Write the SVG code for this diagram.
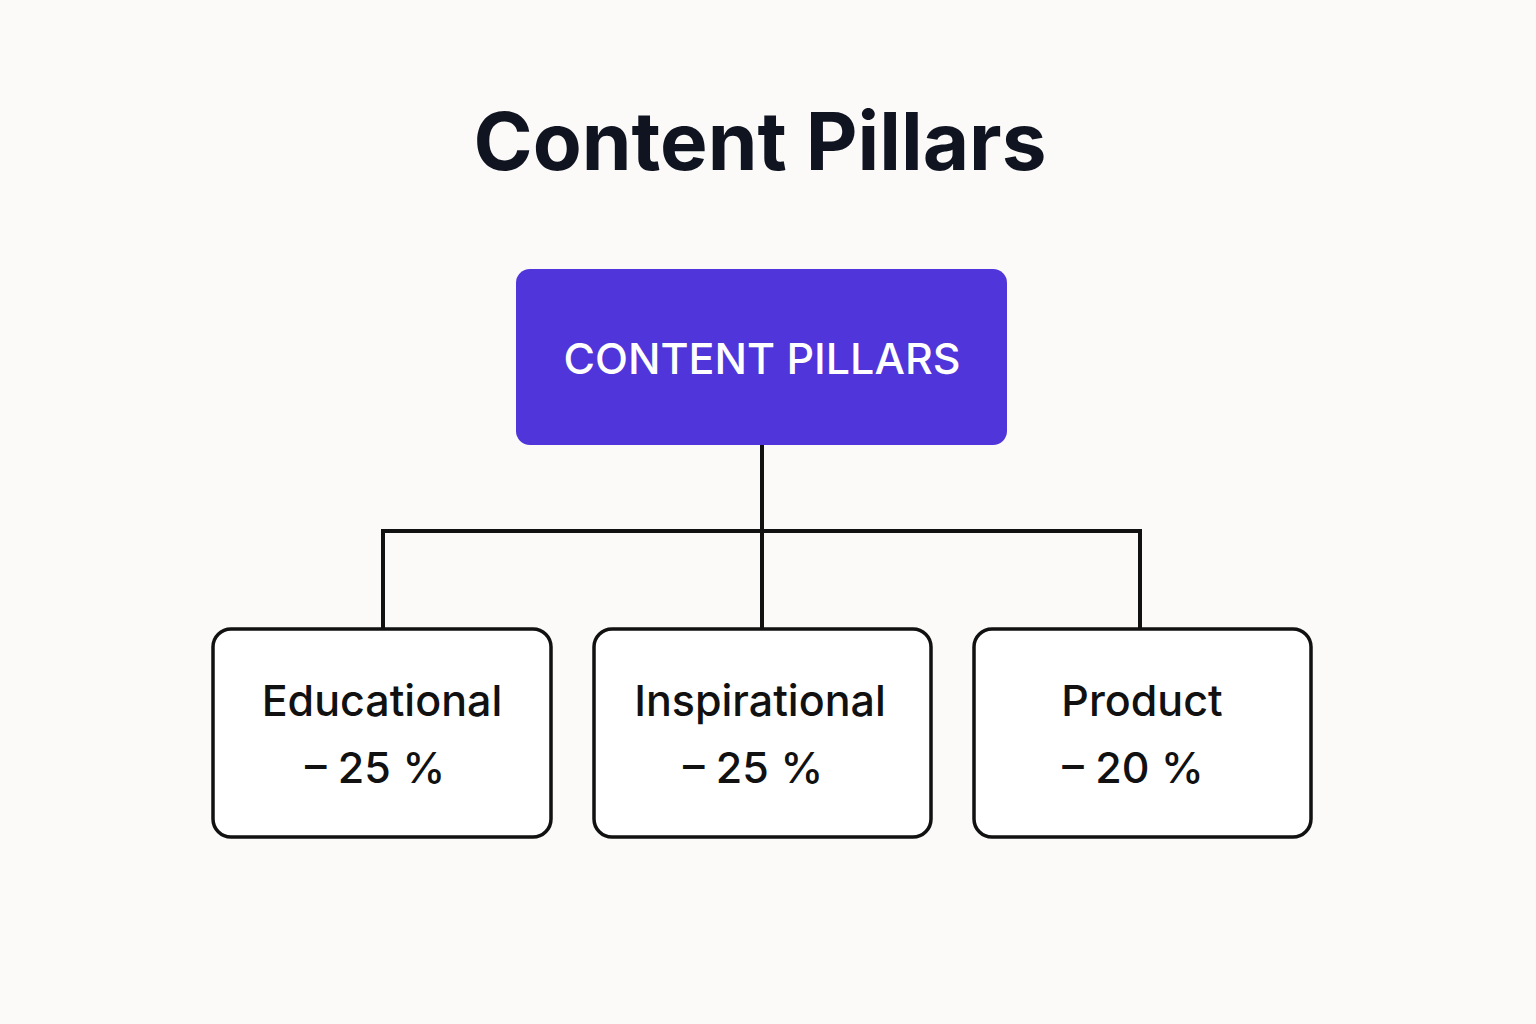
<svg xmlns="http://www.w3.org/2000/svg" width="1536" height="1024" viewBox="0 0 1536 1024">
<style>
text{font-family:Inter,"Liberation Sans",sans-serif;text-anchor:middle}
.box{fill:#fff;stroke:#111;stroke-width:3.5}
.lbl{font-size:43px;font-weight:500;fill:#111}
.conn{stroke:#111;stroke-width:4;fill:none}
</style>
<rect width="1536" height="1024" fill="#fbfaf8"/>
<text x="760" y="170" font-size="80" font-weight="700" fill="#0f1420">Content Pillars</text>
<g id="connectors">
<path class="conn" d="M762 445V628M383 628V531H1140V628"/>
</g>
<g id="root">
<rect x="516" y="269" width="491" height="176" rx="14" fill="#5035db"/>
<text x="762" y="374" font-size="43" font-weight="500" fill="#fff">CONTENT PILLARS</text>
</g>
<g id="educational">
<rect class="box" x="213" y="629" width="338" height="208" rx="18"/>
<text class="lbl" x="382" y="716">Educational</text>
<text class="lbl" x="375" y="783">– 25 %</text>
</g>
<g id="inspirational">
<rect class="box" x="594" y="629" width="337" height="208" rx="18"/>
<text class="lbl" x="760" y="716">Inspirational</text>
<text class="lbl" x="753" y="783">– 25 %</text>
</g>
<g id="product">
<rect class="box" x="974" y="629" width="337" height="208" rx="18"/>
<text class="lbl" x="1142" y="716">Product</text>
<text class="lbl" x="1133" y="783">– 20 %</text>
</g>
</svg>
